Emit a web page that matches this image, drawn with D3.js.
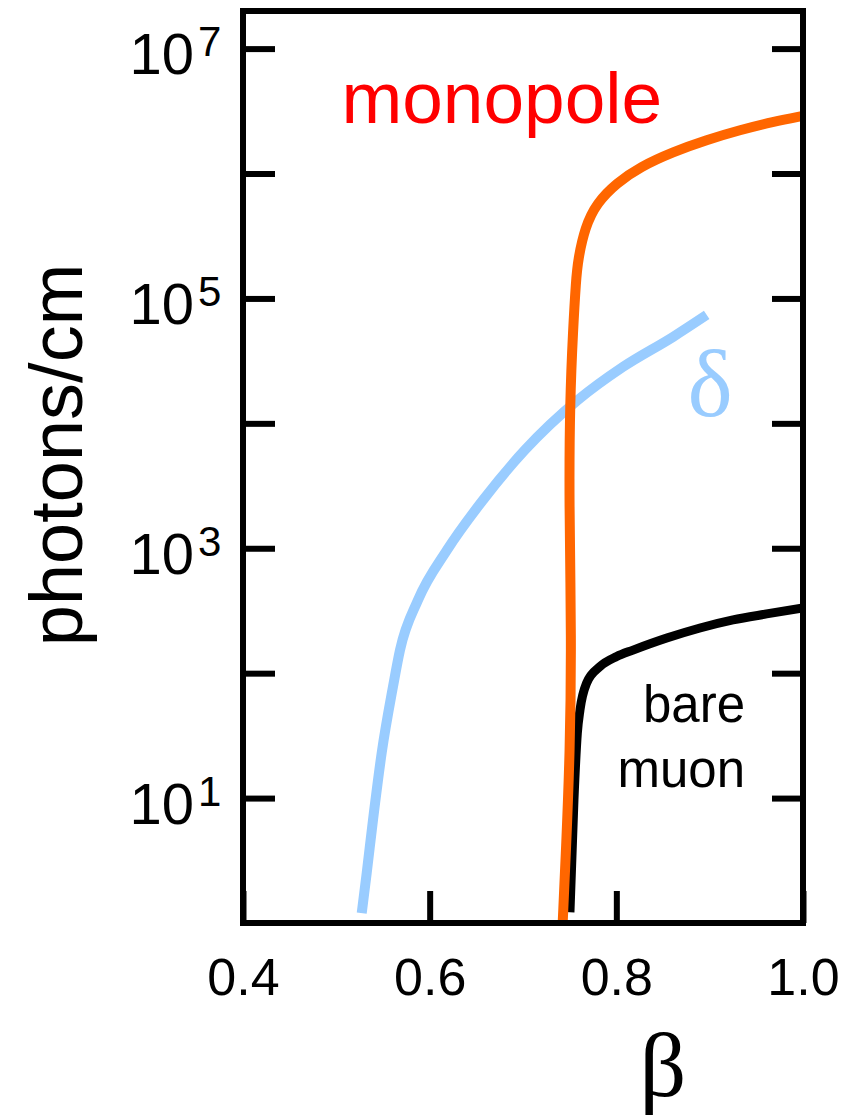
<!DOCTYPE html>
<html>
<head>
<meta charset="utf-8">
<script src="https://cdn.jsdelivr.net/npm/d3@7"></script>
<style>
  body { margin: 0; background: #fff; }
</style>
</head>
<body>
<script>
// data (beta, photons/cm)
const betaTicks = [0.4, 0.6, 0.8, 1.0];
const decadeTicks = [1e1, 1e2, 1e3, 1e4, 1e5, 1e6, 1e7];
const labelDecades = [1e1, 1e3, 1e5, 1e7];

const deltaBeta = [0.5272, 0.5325, 0.5393, 0.5486, 0.5607, 0.5682, 0.5875, 0.6186, 0.6571, 0.7021, 0.7589, 0.8071, 0.8607, 0.8968];
const deltaVal  = [1.2, 2.5, 6.7, 23, 78, 153, 385, 968, 2430, 6120, 15400, 28300, 49200, 73800];

const monoBeta = [0.7425, 0.7461, 0.7503, 0.752, 0.7493, 0.7503, 0.7536, 0.7568, 0.7589, 0.7664, 0.779, 0.8004, 0.8254, 0.8607, 0.8968, 0.9325, 0.9679, 1.0];
const monoVal  = [1.0, 3.84, 23, 184, 2440, 15400, 56000, 1.41e5, 2.03e5, 3.73e5, 5.82e5, 8.41e5, 1.13e6, 1.49e6, 1.86e6, 2.23e6, 2.6e6, 2.89e6];

const muonBeta = [0.7503, 0.7546, 0.7582, 0.7611, 0.7682, 0.7825, 0.8004, 0.8179, 0.854, 0.8896, 0.925, 0.961, 1.0];
const muonVal  = [1.22, 9.7, 33, 51, 83.5, 113, 136, 153, 191, 230, 267, 298, 333];

let width = 849;
let height = 1119;

let svg = d3.select('body').append('svg')
            .attr('width', width)
            .attr('height', height)
            .style('background', '#fff');

let x = d3.scaleLinear().domain([0.4, 1.0]).range([243, 803]);
let y = d3.scaleLog().domain([1, 2e7]).range([923, 11]);

svg.append('clipPath').attr('id', 'plot')
   .append('rect')
   .attr('x', x(0.4)).attr('y', y(2e7))
   .attr('width', x(1.0) - x(0.4))
   .attr('height', y(1) - y(2e7));

let smooth = d3.line()
               .x(d => x(d[0]))
               .y(d => y(d[1]))
               .curve(d3.curveMonotoneX);

// the monopole curve doubles back a little in x, so a basis spline
let soft = d3.line()
             .x(d => x(d[0]))
             .y(d => y(d[1]))
             .curve(d3.curveBasis);

let curves = svg.append('g').attr('clip-path', 'url(#plot)').attr('fill', 'none');

// delta electrons
curves.append('path').attr('d', smooth(d3.zip(deltaBeta, deltaVal)))
      .attr('stroke', '#99ccff').attr('stroke-width', 10);

// bare muon
curves.append('path').attr('d', smooth(d3.zip(muonBeta, muonVal)))
      .attr('stroke', '#000').attr('stroke-width', 9);

// monopole
curves.append('path').attr('d', soft(d3.zip(monoBeta, monoVal)))
      .attr('stroke', '#ff6600').attr('stroke-width', 10);

// ticks, pointing inward
let left = svg.append('g').attr('transform', `translate(${x(0.4)},0)`)
              .call(d3.axisLeft(y).tickValues(decadeTicks).tickSize(-32).tickFormat(''));
left.attr('stroke-width', 6);
left.select('.domain').remove();

let right = svg.append('g').attr('transform', `translate(${x(1.0)},0)`)
               .call(d3.axisRight(y).tickValues(decadeTicks).tickSize(-31).tickFormat(''));
right.attr('stroke-width', 6);
right.select('.domain').remove();

let bottom = svg.append('g').attr('transform', `translate(0,${y(1)})`)
                .call(d3.axisBottom(x).tickValues(betaTicks).tickSize(-32).tickPadding(35)
                        .tickFormat(d3.format('.1f')));
bottom.attr('stroke-width', 6)
      .attr('font-size', 52)
      .attr('font-family', 'Liberation Sans, Arial, sans-serif');
bottom.select('.domain').remove();
bottom.selectAll('text').attr('fill', '#000').attr('stroke', 'none');

// 10^n labels
let labelled = left.selectAll('.tick').filter(d => labelDecades.includes(d));
labelled.append('text')
        .attr('x', -49).attr('y', 25)
        .attr('text-anchor', 'end')
        .attr('font-family', 'Liberation Sans, Arial, sans-serif')
        .attr('font-size', 58)
        .attr('fill', '#000').attr('stroke', 'none')
        .text('10');
labelled.append('text')
        .attr('x', -45).attr('y', 7)
        .attr('text-anchor', 'start')
        .attr('font-family', 'Liberation Sans, Arial, sans-serif')
        .attr('font-size', 42)
        .attr('fill', '#000').attr('stroke', 'none')
        .text(d => Math.round(Math.log10(d)));

// The frame
svg.append('rect').attr('x', x(0.4))
                  .attr('y', y(2e7))
                  .attr('width', x(1.0) - x(0.4))
                  .attr('height', y(1) - y(2e7))
                  .attr('fill', 'none')
                  .attr('stroke', '#000')
                  .attr('stroke-width', 6);

// curve labels
svg.append('text').attr('x', x(0.5055)).attr('y', y(2.54e6))
   .attr('font-family', 'Liberation Sans, Arial, sans-serif')
   .attr('font-size', 73).attr('fill', '#ff0000')
   .text('monopole');

svg.append('text').attr('x', x(0.9004)).attr('y', y(1.15e4))
   .attr('text-anchor', 'middle')
   .attr('font-family', 'Liberation Serif, Times New Roman, serif')
   .attr('font-size', 96).attr('fill', '#99ccff')
   .text('δ');

svg.append('text').attr('x', x(0.9379)).attr('y', y(41))
   .attr('text-anchor', 'end')
   .attr('font-family', 'Liberation Sans, Arial, sans-serif')
   .attr('font-size', 51).attr('fill', '#000')
   .text('bare');

svg.append('text').attr('x', x(0.9379)).attr('y', y(12.3))
   .attr('text-anchor', 'end')
   .attr('font-family', 'Liberation Sans, Arial, sans-serif')
   .attr('font-size', 51).attr('fill', '#000')
   .text('muon');

// axis titles
svg.append('text').attr('transform', 'translate(82,455) rotate(-90)')
   .attr('text-anchor', 'middle')
   .attr('font-family', 'Liberation Sans, Arial, sans-serif')
   .attr('font-size', 74).attr('fill', '#000')
   .text('photons/cm');

svg.append('text').attr('x', 663).attr('y', 1096)
   .attr('text-anchor', 'middle')
   .attr('font-family', 'Liberation Serif, Times New Roman, serif')
   .attr('font-size', 92).attr('fill', '#000')
   .text('β');
</script>
</body>
</html>
